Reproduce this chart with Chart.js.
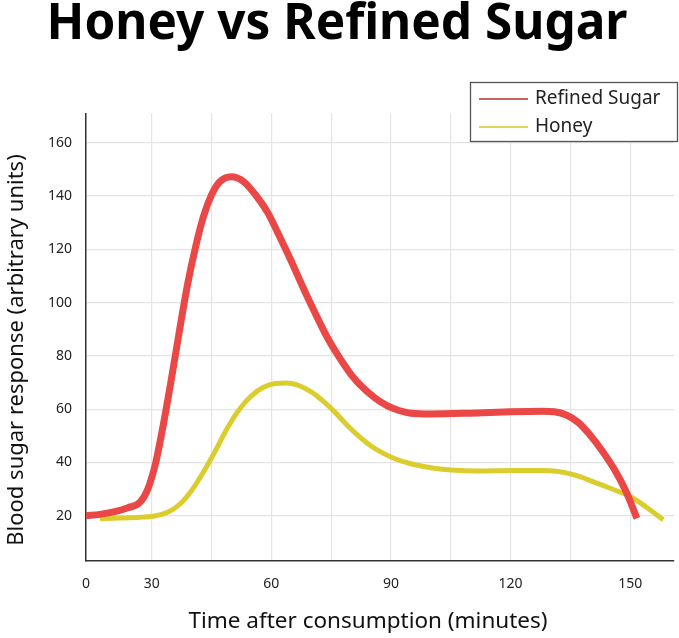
<!DOCTYPE html>
<html>
<head>
<meta charset="utf-8">
<script src="https://cdn.jsdelivr.net/npm/chart.js@4"></script>
<style>
    html, body { margin: 0; padding: 0; background: #fff; }
    #wrap { width: 679px; height: 638px; }
</style>
</head>
<body>
<div id="wrap"><canvas id="sugarChart" width="679" height="638"></canvas></div>
<script>
const seriesNames = ['Refined Sugar', 'Honey'];

const sugarMinutes = [13.5, 17, 21, 24, 27, 29, 31, 33, 35, 37, 39, 41, 43, 45, 47, 50, 53, 56, 59, 62, 65, 68, 71, 74, 77, 80, 83, 86, 89, 92, 95, 100, 110, 120, 128, 131, 134, 137, 140, 143, 146, 149, 151.7];
const sugarValues  = [20, 20.5, 21.6, 23, 25, 30, 40, 55, 72, 90, 107, 121, 132.5, 140.5, 145.3, 147.3, 145.5, 140.5, 134, 125, 115.5, 105.5, 96, 87, 79.5, 73, 68, 64.2, 61.3, 59.5, 58.5, 58.2, 58.5, 59, 59.2, 59, 57.8, 55, 50.2, 44.3, 37.5, 29, 19];

const honeyMinutes = [17, 22, 27, 31, 34, 37, 40, 43, 46, 49, 52, 55, 58, 61, 64, 67, 70, 73, 76, 79, 82, 85, 88, 91, 95, 100, 105, 112, 120, 128, 132, 136, 140, 145, 150, 154, 158.3];
const honeyValues  = [18.9, 19.1, 19.4, 20, 21.3, 24.3, 29.5, 36.5, 44.5, 53, 60, 65, 68.2, 69.6, 69.8, 68.8, 66.5, 63, 58.8, 54, 49.8, 46.2, 43.5, 41.4, 39.5, 38, 37.2, 36.8, 37, 37, 36.6, 35.3, 33.2, 30.3, 27.2, 23.3, 18.5];

const xTickValues = [30, 45, 60, 75, 90, 105, 120, 135, 150];
const xLabelValues = [30, 60, 90, 120, 150];
const yTickValues = [20, 40, 60, 80, 100, 120, 140, 160];

const xTitle = 'Time after consumption (minutes)';
const yTitle = 'Blood sugar response (arbitrary units)';

const lineColors = ['#ea4747', '#dccd2f'];
const legendColors = ['#b43232', '#d6c623'];
const xMin = 13.5, xMax = 161;
const yMin = 3, yMax = 171;

const font = "'Noto Sans', sans-serif";

function toPoints(xs, ys) {
    return xs.map((x, i) => ({x: x, y: ys[i]}));
}

// axis titles sit a bit off-centre in the reference, so place them by hand
const axisTitles = {
    id: 'axisTitles',
    afterDraw(chart) {
        const ctx = chart.ctx;
        ctx.save();
        ctx.fillStyle = '#111';
        ctx.textAlign = 'center';
        ctx.textBaseline = 'middle';
        ctx.font = '22.5px ' + font;
        ctx.fillText(xTitle, 368, 622);
        ctx.translate(17, 350);
        ctx.rotate(-Math.PI / 2);
        ctx.font = '22px ' + font;
        ctx.fillText(yTitle, 0, 0);
        ctx.restore();
    }
};

// legend box drawn on top of the plot, like the reference
const boxLegend = {
    id: 'boxLegend',
    afterDraw(chart) {
        const ctx = chart.ctx;
        const left = 470, top = 82, w = 208, h = 60;
        ctx.save();
        ctx.fillStyle = '#fff';
        ctx.fillRect(left, top, w, h);
        ctx.strokeStyle = '#555';
        ctx.lineWidth = 1.3;
        ctx.strokeRect(left + 0.5, top + 0.5, w - 1, h - 1);
        ctx.font = '19px ' + font;
        ctx.textBaseline = 'middle';
        chart.data.datasets.forEach((ds, i) => {
            const y = top + 17 + i * 28;
            ctx.strokeStyle = legendColors[i];
            ctx.lineWidth = 1.6;
            ctx.beginPath();
            ctx.moveTo(479, y);
            ctx.lineTo(528, y);
            ctx.stroke();
            ctx.fillStyle = '#222';
            ctx.fillText(ds.label, 535, y);
        });
        ctx.restore();
    }
};

new Chart(document.getElementById('sugarChart'), {
    type: 'line',
    data: {
        datasets: [
            {
                label: seriesNames[0],
                data: toPoints(sugarMinutes, sugarValues),
                borderColor: lineColors[0],
                borderWidth: 7,
                pointRadius: 0,
                cubicInterpolationMode: 'monotone',
                fill: false
            },
            {
                label: seriesNames[1],
                data: toPoints(honeyMinutes, honeyValues),
                borderColor: lineColors[1],
                borderWidth: 5,
                pointRadius: 0,
                cubicInterpolationMode: 'monotone',
                fill: false
            }
        ]
    },
    options: {
        responsive: false,
        animation: false,
        layout: {padding: {top: 0, right: 5, bottom: 0, left: 0}},
        scales: {
            x: {
                type: 'linear',
                min: xMin,
                max: xMax,
                afterBuildTicks: scale => {
                    scale.ticks = [xMin].concat(xTickValues).map(v => ({value: v}));
                },
                afterFit: scale => { scale.height = 77; },
                grid: {color: '#e4e4e4', lineWidth: 1.2, drawTicks: false},
                border: {display: true, color: '#333', width: 1.5},
                ticks: {
                    padding: 15,
                    color: '#222',
                    font: {size: 14, family: font},
                    maxRotation: 0,
                    autoSkip: false,
                    callback: v => v === xMin ? '0' : (xLabelValues.includes(v) ? String(v) : '')
                }
            },
            y: {
                min: yMin,
                max: yMax,
                afterBuildTicks: scale => {
                    scale.ticks = yTickValues.map(v => ({value: v}));
                },
                afterFit: scale => { scale.width = 86; },
                grid: {color: '#e4e4e4', lineWidth: 1.2, drawTicks: false},
                border: {display: true, color: '#333', width: 1.5},
                ticks: {
                    padding: 14,
                    color: '#222',
                    font: {size: 14, family: font}
                }
            }
        },
        plugins: {
            legend: {display: false},
            tooltip: {enabled: false},
            title: {
                display: true,
                text: 'Honey vs Refined Sugar',
                color: '#000',
                font: {size: 49.5, weight: 'bold', family: font, lineHeight: 1},
                padding: {top: 0, bottom: 64}
            }
        }
    },
    plugins: [axisTitles, boxLegend]
});
</script>
</body>
</html>
